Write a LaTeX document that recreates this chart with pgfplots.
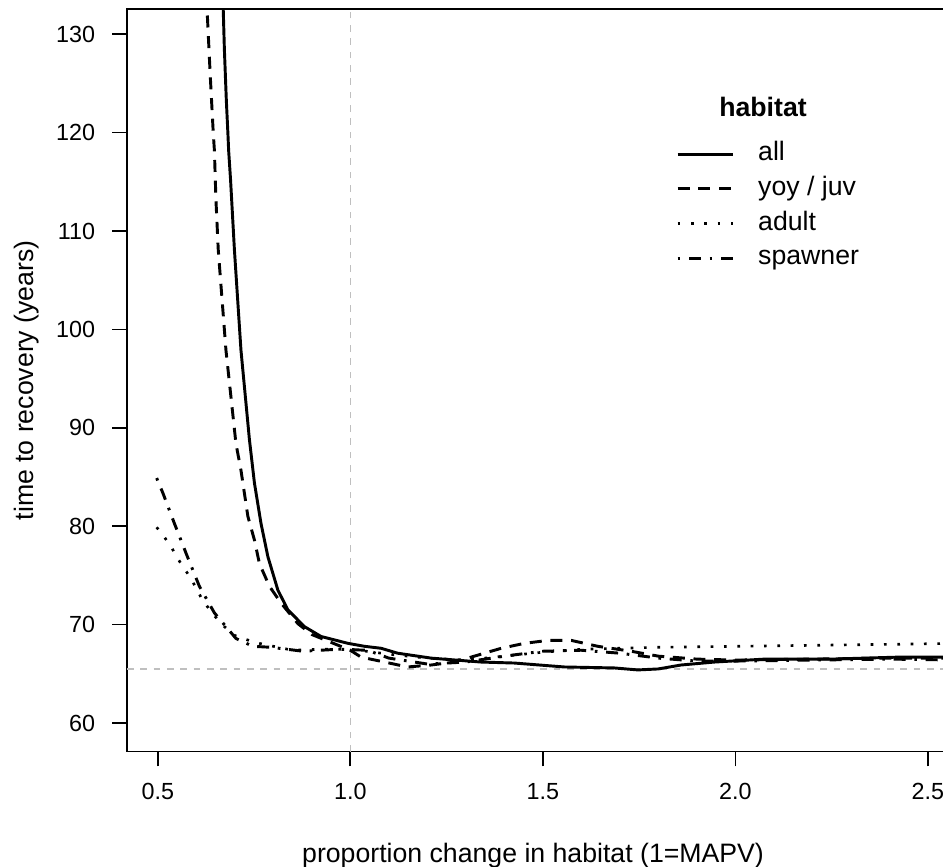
\documentclass[border=0pt]{standalone}
\usepackage{fontspec}
\setmainfont{Liberation Sans}
\usepackage{pgfplots}
\pgfplotsset{compat=1.18}

\begin{document}
\begin{tikzpicture}
\begin{axis}[
  scale only axis, width=623.7pt, height=556.95pt,
  xmin=0.42, xmax=2.58, ymin=57.1, ymax=132.57,
  xtick={0.5,1,1.5,2,2.5}, xticklabels={0.5,1.0,1.5,2.0,2.5},
  ytick={60,70,...,130},
  tick align=outside, xtick pos=left, ytick pos=left, major tick length=11pt,
  tick style={line width=1.2pt, black},
  axis line style={line width=1.3pt},
  ticklabel style={font=\fontsize{17.5}{20}\selectfont},
  /pgf/number format/assume math mode=true,
  xticklabel shift=9.5pt, yticklabel shift=9.4pt,
  xlabel={proportion change in habitat (1=MAPV)},
  ylabel={time to recovery (years)},
  every axis x label/.style={at={(rel axis cs:0.205,-0.1499)}, anchor=base west, font=\fontsize{20}{24}\selectfont},
  every axis y label/.style={at={(rel axis cs:-0.1202,0.5)}, anchor=center, rotate=90, font=\fontsize{20}{24}\selectfont},
  legend style={at={(axis cs:1.846,119.2)}, anchor=north west, draw=none, fill=none, inner sep=0pt, row sep=6pt, column sep=18pt, font=\fontsize{20}{24}\selectfont, nodes={inner sep=0pt, text height=15pt, text depth=5pt}},
  legend cell align=left,
  legend image code/.code={\draw[#1] (0pt,0pt) -- (41.25pt,0pt);},
]
\addplot[gray!50, line width=0.9pt, dash pattern=on 5pt off 5pt, forget plot] coordinates {(1,57.1) (1,132.57)};
\addplot[gray!50, line width=0.9pt, dash pattern=on 5pt off 5pt, forget plot] coordinates {(0.42,65.5) (2.58,65.5)};

% all
\addplot[black, line width=2.2pt, line join=round] coordinates {
(0.666,134) (0.670,132.5) (0.673,128.4) (0.678,123.3) (0.682,120.0) (0.684,118.2)
(0.689,115.2) (0.699,108.1) (0.716,97.9) (0.738,88.8) (0.751,84.4) (0.768,80.3)
(0.786,76.9) (0.812,73.5) (0.838,71.5) (0.881,69.8) (0.924,68.8) (0.994,68.1)
(1.037,67.8) (1.080,67.6) (1.123,67.1) (1.210,66.6) (1.340,66.2) (1.426,66.1)
(1.556,65.7) (1.686,65.6) (1.747,65.4) (1.800,65.5) (1.859,65.9) (1.946,66.2)
(2.076,66.5) (2.249,66.5) (2.422,66.7) (2.58,66.7)};
\addlegendentry{all}

% yoy / juv
\addplot[black, line width=2.2pt, dash pattern=on 9pt off 6.5pt] coordinates {
(0.624,134) (0.628,132.5) (0.636,126) (0.644,120) (0.647,118.2) (0.651,113.2)
(0.657,108.1) (0.677,97.9) (0.703,88.4) (0.716,85.7) (0.734,81.0) (0.751,78.6)
(0.764,76.2) (0.790,73.9) (0.820,72.2) (0.864,70.1) (0.900,69.0) (0.950,68.2)
(1.000,67.4) (1.028,66.7) (1.089,66.2) (1.149,65.7) (1.210,65.9) (1.270,66.2)
(1.331,66.9) (1.392,67.6) (1.452,68.1) (1.513,68.4) (1.574,68.4) (1.643,67.8)
(1.729,67.3) (1.800,66.8) (1.900,66.5) (2.000,66.4) (2.200,66.5) (2.400,66.6) (2.58,66.6)};
\addlegendentry{yoy / juv}

% adult
\addplot[black, line width=2pt, dash pattern=on 2pt off 8pt] coordinates {
(0.497,79.9) (0.517,78.9) (0.535,77.9) (0.552,76.7) (0.569,75.7) (0.586,74.7)
(0.612,72.8) (0.640,71.2) (0.673,69.8) (0.700,68.9) (0.751,68.2) (0.800,67.8)
(0.850,67.4) (0.924,67.5) (1.002,67.5) (1.100,67.0) (1.200,66.6) (1.300,66.4)
(1.400,66.8) (1.500,67.2) (1.600,67.5) (1.700,67.6) (1.800,67.7) (2.000,67.8)
(2.200,67.9) (2.400,68.0) (2.58,68.1)};
\addlegendentry{adult}

% spawner
\addplot[black, line width=2.2pt, dash pattern=on 2pt off 6.5pt on 9pt off 6.5pt] coordinates {
(0.497,84.9) (0.513,83.4) (0.543,80.3) (0.575,77.1) (0.608,73.9) (0.647,71.2)
(0.703,68.6) (0.747,67.8) (0.794,67.7) (0.877,67.3) (0.968,67.5) (1.045,67.4)
(1.100,66.6) (1.200,66.0) (1.300,66.2) (1.400,66.8) (1.500,67.3) (1.600,67.4)
(1.700,67.1) (1.800,66.6) (1.900,66.3) (2.000,66.3) (2.200,66.4) (2.400,66.5) (2.58,66.4)};
\addlegendentry{spawner}

\node[font=\bfseries\fontsize{20}{24}\selectfont] at (axis cs:2.072,122.6) {habitat};
\coordinate (ll) at (rel axis cs:0,0);
\end{axis}
\pgfresetboundingbox
\path[use as bounding box] ([shift={(-95.25pt,-86.5pt)}]ll) rectangle ([shift={(612pt,563.7pt)}]ll);
\end{tikzpicture}
\end{document}
